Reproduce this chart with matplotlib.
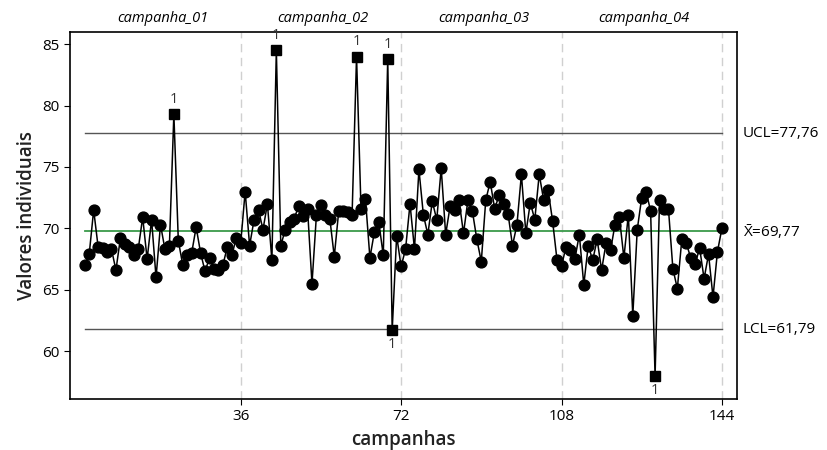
import matplotlib.pyplot as plt
import numpy as np

plt.rcParams['font.family'] = ['Open Sans', 'DejaVu Sans']
plt.rcParams['mathtext.fontset'] = 'custom'
plt.rcParams['mathtext.rm'] = 'Open Sans'

# individual values, 36 per campaign
camp_01 = [67.0, 67.9, 71.5, 68.5, 68.4, 68.1, 68.3, 66.6, 69.2, 68.7, 68.5, 67.8,
           68.3, 70.9, 67.5, 70.7, 66.0, 70.3, 68.3, 68.6, 79.3, 69.0, 67.0, 67.8,
           68.0, 70.1, 68.0, 66.5, 67.6, 66.7, 66.6, 67.0, 68.5, 67.8, 69.2, 68.8]
camp_02 = [73.0, 68.6, 70.7, 71.5, 69.9, 72.0, 67.4, 84.5, 68.6, 69.9, 70.5, 70.8,
           71.8, 71.0, 71.6, 65.5, 71.1, 71.9, 71.1, 70.8, 67.7, 71.4, 71.4, 71.3,
           71.1, 84.0, 71.6, 72.4, 67.6, 69.7, 70.5, 67.8, 83.8, 61.7, 69.4, 66.9]
camp_03 = [68.3, 72.0, 68.3, 74.8, 71.1, 69.5, 72.2, 70.7, 74.9, 69.5, 71.8, 71.5,
           72.3, 69.6, 72.3, 71.4, 69.1, 67.3, 72.3, 73.8, 71.6, 72.7, 72.0, 71.2,
           68.6, 70.3, 74.4, 69.6, 72.1, 70.7, 74.4, 72.3, 73.1, 70.6, 67.4, 66.9]
camp_04 = [68.5, 68.2, 67.5, 69.5, 65.4, 68.6, 67.4, 69.1, 66.6, 68.8, 68.2, 70.3,
           70.9, 67.6, 71.1, 62.9, 69.9, 72.5, 73.0, 71.4, 57.95, 72.3, 71.6, 71.6,
           66.7, 65.1, 69.1, 68.8, 67.6, 67.1, 68.4, 65.9, 67.9, 64.4, 68.1, 70.0]
stages = ["campanha_01", "campanha_02", "campanha_03", "campanha_04"]

ucl = 77.76
cl = 69.77
lcl = 61.79

values = np.array(camp_01 + camp_02 + camp_03 + camp_04)
n = len(values)
x = np.arange(1, n + 1)
per_stage = len(camp_01)

fig = plt.figure(figsize=(8.27, 4.5), dpi=100)
ax = fig.add_axes([0.0847, 0.1133, 0.806, 0.8157])

# stage separators
for k in range(1, len(stages) + 1):
    ax.axvline(k * per_stage, color="#d0d0d0", ls=(0, (6, 4)), lw=1, zorder=0)

# control limits
ax.plot([1, n], [ucl, ucl], color="#555555", lw=1)
ax.plot([1, n], [lcl, lcl], color="#555555", lw=1)
ax.plot([1, n], [cl, cl], color="#3a9a4a", lw=1.3)

ax.plot(x, values, color="black", lw=1.1, zorder=2)
out = (values > ucl) | (values < lcl)
ax.plot(x[~out], values[~out], "o", color="black", ms=7.8, zorder=3)
ax.plot(x[out], values[out], "s", color="black", ms=7.2, zorder=3)

for xi, v in zip(x[out], values[out]):
    if v > ucl:
        ax.text(xi, v + 0.6, "1", ha="center", va="bottom", fontsize=10.5, color="#333333")
    else:
        ax.text(xi, v - 0.55, "1", ha="center", va="top", fontsize=10.5, color="#333333")

for k, name in enumerate(stages):
    ax.text(k * per_stage + (per_stage + 1) / 2, 87.1, name, ha="center", va="center",
            fontsize=10.5, style="italic")

ax.text(n + 4.7, ucl, "UCL=77,76", va="center", ha="left", fontsize=11)
ax.text(n + 4.7, cl, r"$\mathrm{\bar{X}}$=69,77", va="center", ha="left", fontsize=11)
ax.text(n + 4.7, lcl, "LCL=61,79", va="center", ha="left", fontsize=11)

ax.set_xlim(-2.3, 147.3)
ax.set_ylim(56.1, 86.0)
ax.set_xticks([36, 72, 108, 144])
ax.set_yticks([60, 65, 70, 75, 80, 85])
ax.tick_params(labelsize=11, length=4)
ax.set_xlabel("campanhas", fontsize=13.5, fontweight="semibold", color="#222222")
ax.set_ylabel("Valores individuais", fontsize=13.5, fontweight="semibold", color="#222222")
for s in ax.spines.values():
    s.set_linewidth(1.2)

fig.savefig("out.png", dpi=100)
